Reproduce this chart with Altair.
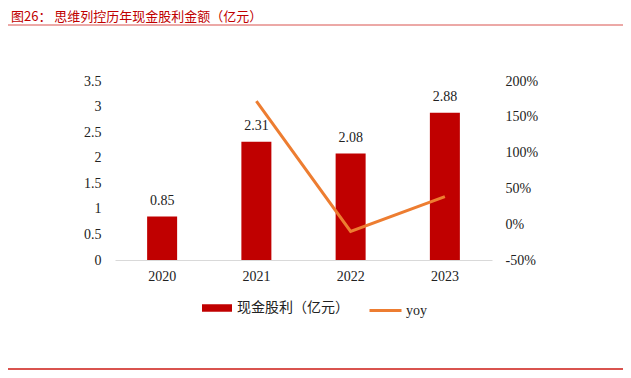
import altair as alt
import pandas as pd

years = ["2020", "2021", "2022", "2023"]
dividend = [0.85, 2.31, 2.08, 2.88]
yoy_years = ["2021", "2022", "2023"]
yoy = [171.8, -10.0, 38.5]
bar_name = "现金股利（亿元）"
line_name = "yoy"
title_text = "图26：  思维列控历年现金股利金额（亿元）"

FONT = "Liberation Serif, Times New Roman, Noto Sans CJK SC"
RED = "#C00000"
ORANGE = "#ED7D31"

bar_df = pd.DataFrame({"year": years, "v": dividend, "s": bar_name})
line_df = pd.DataFrame({"year": yoy_years, "y": yoy, "s2": line_name})

x_enc = alt.X("year:N", sort=years, title=None,
              scale=alt.Scale(paddingInner=0, paddingOuter=0),
              axis=alt.Axis(labelAngle=0, ticks=False, domainColor="#d9d9d9",
                            domainWidth=1, labelPadding=9, labelFontSize=14,
                            labelFont=FONT, labelColor="#222"))

y_enc = alt.Y("v:Q", title=None, scale=alt.Scale(domain=[0, 3.5], nice=False),
              axis=alt.Axis(values=[0, 0.5, 1, 1.5, 2, 2.5, 3, 3.5], grid=False,
                            ticks=False, domain=False, labelPadding=14, labelOverlap=False,
                            labelFontSize=14, labelFont=FONT, labelColor="#222",
                            labelExpr="format(datum.value, '~g')"))

bars = alt.Chart(bar_df).mark_bar(size=30).encode(
    x=x_enc,
    y=y_enc,
    fill=alt.Fill("s:N", scale=alt.Scale(domain=[bar_name], range=[RED]),
                  legend=alt.Legend(title=None, orient="none", legendX=87, legendY=212,
                                    symbolType="M-1,-0.25H1V0.25H-1Z", symbolSize=900,
                                    symbolStrokeWidth=0, labelOffset=5,
                                    labelFontSize=14, labelFont=FONT, labelColor="#222")),
)

labels = alt.Chart(bar_df).mark_text(dy=-9, baseline="bottom", fontSize=14,
                                      font=FONT, color="#222").encode(
    x=x_enc,
    y=y_enc,
    text=alt.Text("v:Q", format=".2f"),
)

bar_layer = alt.layer(bars, labels)

line = alt.Chart(line_df).mark_line(strokeWidth=3).encode(
    x=x_enc,
    y=alt.Y("y:Q", title=None, scale=alt.Scale(domain=[-50, 200], nice=False),
            axis=alt.Axis(orient="right", values=[-50, 0, 50, 100, 150, 200],
                          grid=False, ticks=False, domain=False, labelPadding=13,
                          labelOverlap=False,
                          labelFontSize=14, labelFont=FONT, labelColor="#222",
                          labelExpr="datum.value + '%'")),
    stroke=alt.Stroke("s2:N", scale=alt.Scale(domain=[line_name], range=[ORANGE]),
                      legend=alt.Legend(title=None, orient="none", legendX=253, legendY=212,
                                        symbolType="stroke", symbolSize=1024,
                                        symbolStrokeWidth=3, labelOffset=3,
                                        labelFontSize=14, labelFont=FONT, labelColor="#222")),
)

title_df = pd.DataFrame({"t": [title_text]})
title = alt.Chart(title_df).mark_text(align="left", baseline="alphabetic", fontSize=13,
                                       font="Noto Sans CJK SC, " + FONT, color=RED).encode(
    text="t:N", x=alt.value(-104), y=alt.value(-60))

top_rule = alt.Chart(title_df).mark_rule(color="#D9534F", strokeWidth=1).encode(
    x=alt.value(-107), x2=alt.value(508), y=alt.value(-56))
bottom_rule = alt.Chart(title_df).mark_rule(color="#D9534F", strokeWidth=2).encode(
    x=alt.value(-107), x2=alt.value(508), y=alt.value(288))

chart = alt.layer(bar_layer, line, title, top_rule, bottom_rule).resolve_scale(
    y="independent", fill="independent", stroke="independent"
).properties(
    width=377, height=179, autosize="none",
    padding={"left": 107, "top": 73, "right": 131, "bottom": 110},
    background="white",
).configure_view(stroke=None)

chart.save("out.html", embed_options={"renderer": "svg", "actions": False})
